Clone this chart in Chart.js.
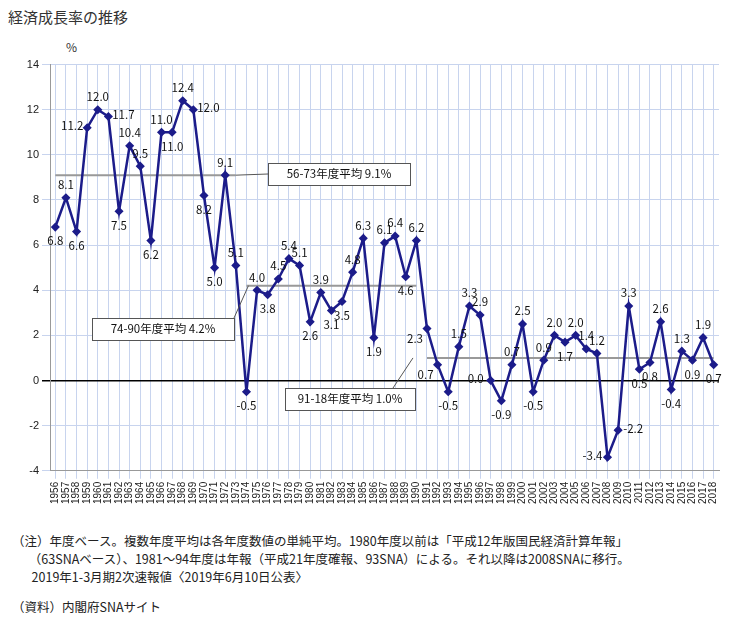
<!DOCTYPE html>
<html><head><meta charset="utf-8">
<script src="https://cdn.jsdelivr.net/npm/chart.js"></script>
<style>
body{margin:0;background:#fff;font-family:"Noto Sans CJK JP",sans-serif;}
#t{position:absolute;left:8px;top:6px;font-size:15px;color:#333;}
#pct{position:absolute;left:66px;top:38px;font-size:12px;color:#333;}
#wrap{position:absolute;left:0;top:55px;width:741px;height:452px;}
#notes{position:absolute;left:12px;top:532px;font-size:12.5px;line-height:18px;color:#222;}
</style></head><body>
<div id="t">経済成長率の推移</div>
<div id="pct">%</div>
<div id="wrap"><canvas id="c"></canvas></div>
<div id="notes">（注）年度ベース。複数年度平均は各年度数値の単純平均。1980年度以前は「平成12年版国民経済計算年報」<br>
&nbsp;&nbsp;&nbsp;&nbsp;&nbsp;&nbsp;（63SNAベース）、1981～94年度は年報（平成21年度確報、93SNA）による。それ以降は2008SNAに移行。<br>
&nbsp;&nbsp;&nbsp;&nbsp;&nbsp;&nbsp;&nbsp;2019年1-3月期2次速報値〈2019年6月10日公表〉<br>
<div style="height:12px"></div>（資料）内閣府SNAサイト</div>
<script>
const years=[];for(let y=1956;y<=2018;y++)years.push(String(y));
const growth=[6.8,8.1,6.6,11.2,12.0,11.7,7.5,10.4,9.5,6.2,11.0,11.0,12.4,12.0,8.2,5.0,9.1,5.1,-0.5,4.0,3.8,4.5,5.4,5.1,2.6,3.9,3.1,3.5,4.8,6.3,1.9,6.1,6.4,4.6,6.2,2.3,0.7,-0.5,1.5,3.3,2.9,0.0,-0.9,0.7,2.5,-0.5,0.9,2.0,1.7,2.0,1.4,1.2,-3.4,-2.2,3.3,0.5,0.8,2.6,-0.4,1.3,0.9,1.9,0.7];
const labelPos=["b","a","b","l","a","r","b","a","a","b",
 "a","b","a","r","b","b","a","a","b","a",
 "b","a","a","a","b","a","b","b","a","a",
 "b","a","a","b","a","lb","lb","b","a","a",
 "a","l","b","a","a","b","a","a","b","a",
 "a","a","l","r","a","b","b","a","b","a",
 "b","a","b"];
const avgPeriods=[{from:"1956",to:"1973",v:9.1},{from:"1974",to:"1990",v:4.2},{from:"1991",to:"2018",v:1.0}];
const avgLabels=["56-73年度平均 9.1%","74-90年度平均 4.2%","91-18年度平均 1.0%"];
const avgSets=avgPeriods.map(p=>({type:'line',data:years.map(y=>(y>=p.from&&y<=p.to)?p.v:null),borderColor:'#999',borderWidth:2,pointRadius:0,spanGaps:false,order:2}));
const labelsPlugin={id:'lbl',afterDatasetsDraw(ch){
 const ctx=ch.ctx,m=ch.getDatasetMeta(0);ctx.save();ctx.font='11.5px "Noto Sans CJK JP",sans-serif';ctx.textAlign='center';ctx.textBaseline='middle';
 const xs=ch.scales.x,ys=ch.scales.y;
 const boxes=[{bx:268,by:163,w:142,i:0,ax:xs.getPixelForValue(years.indexOf("1973")),ay:ys.getPixelForValue(9.1),lx:268,ly:174},
  {bx:92,by:318,w:142,i:1,ax:xs.getPixelForValue(years.indexOf("1974"))+2,ay:ys.getPixelForValue(4.2),lx:234,ly:318},
  {bx:285,by:388,w:130,i:2,ax:xs.getPixelForValue(years.indexOf("1991"))-14,ay:ys.getPixelForValue(1.0),lx:393,ly:388}];
 boxes.forEach(b=>{const by=b.by-55,ly=b.ly-55;
  ctx.strokeStyle='#555';ctx.lineWidth=1;ctx.beginPath();ctx.moveTo(b.lx,ly);ctx.lineTo(b.ax,b.ay);ctx.stroke();
  ctx.fillStyle='#fff';ctx.fillRect(b.bx,by,b.w,22);ctx.strokeRect(b.bx+.5,by+.5,b.w,22);
  ctx.fillStyle='#111';ctx.fillText(avgLabels[b.i],b.bx+b.w/2,by+11);});
 ctx.fillStyle='#111';
 m.data.forEach((pt,i)=>{const p=labelPos[i];let x=pt.x,y=pt.y;
  if(p==='a')y-=13;else if(p==='b')y+=14;else if(p==='l'){x-=15;y-=2;}else if(p==='r'){x+=15;y-=2;}else if(p==='lb'){x-=12;y+=10;}
  ctx.fillText(growth[i].toFixed(1),x,y);});
 ctx.restore();}};
new Chart(document.getElementById('c'),{
 data:{labels:years,datasets:[{type:'line',data:growth,borderColor:'#1c1c8a',backgroundColor:'#1c1c8a',borderWidth:2.5,pointStyle:'rectRot',pointRadius:2.8,tension:0,order:1},...avgSets]},
 options:{responsive:true,maintainAspectRatio:false,animation:false,
  layout:{padding:{top:8,right:22,left:4}},
  plugins:{legend:{display:false},tooltip:{enabled:false}},
  scales:{x:{offset:true,grid:{color:'#c8d4ee',offset:false},border:{color:'#999'},ticks:{autoSkip:false,maxRotation:90,minRotation:90,font:{size:10},color:'#222'}},
   y:{min:-4,max:14,afterFit(s){s.width=46;},ticks:{stepSize:2,font:{size:11},color:'#222'},border:{color:'#999'},
    grid:{color:c=>c.tick.value===0?'#000':'#c8d4ee',lineWidth:c=>c.tick.value===0?1.5:1}}}},
 plugins:[labelsPlugin]});
</script></body></html>
